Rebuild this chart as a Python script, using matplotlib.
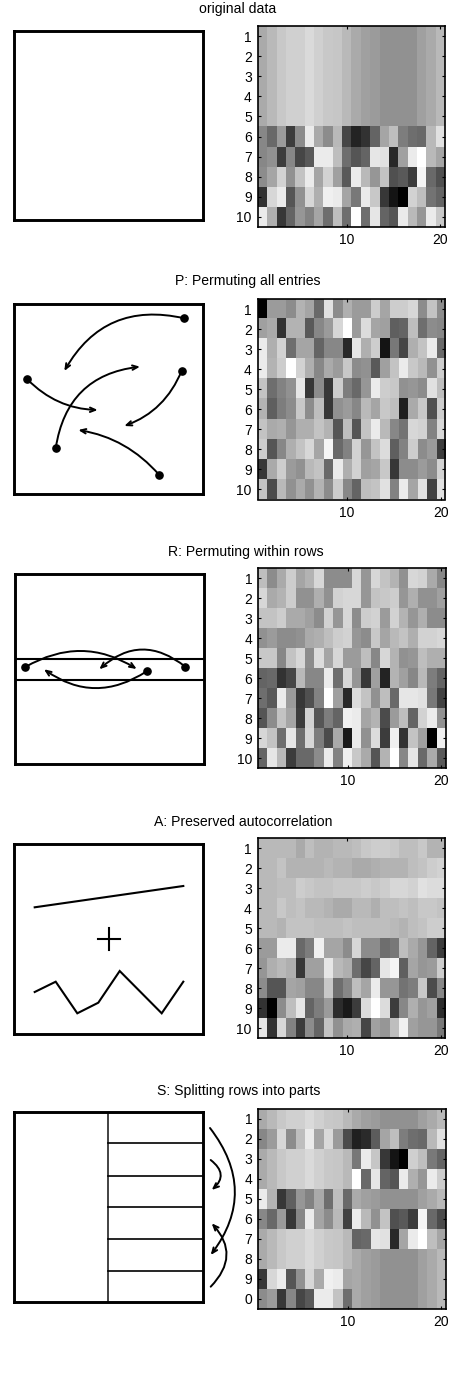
import matplotlib
matplotlib.use("Agg")
import matplotlib.pyplot as plt
from matplotlib.patches import FancyArrowPatch

plt.rcParams['font.family'] = ['Liberation Sans', 'DejaVu Sans']

FIG_W, FIG_H = 477, 1400

# ---------- data: grey levels (0 black .. 255 white) ----------
smooth_row = [170,185,200,208,208,218,208,200,198,185,170,160,155,145,145,145,145,160,170,185]

original_noisy = [
    [135,105,155,60,140,235,170,140,185,70,35,50,100,165,190,125,110,105,185,225],
    [135,145,60,135,70,90,235,235,190,110,85,100,230,225,40,160,235,255,185,165],
    [140,165,210,145,195,235,165,210,160,90,235,185,150,195,80,90,60,245,105,80],
    [50,215,235,85,145,215,175,240,235,165,120,235,200,55,20,0,210,190,115,100],
    [235,175,55,100,150,130,165,110,190,110,255,110,230,100,85,235,185,150,235,200],
]
original = [smooth_row] * 5 + original_noisy

permuted_all = [
    [0,155,155,140,180,165,105,225,140,175,155,155,205,165,205,205,215,140,195,140],
    [160,170,50,180,180,90,135,155,215,255,155,220,165,160,95,100,190,110,140,135],
    [235,175,210,110,165,165,100,135,135,40,230,175,205,20,120,70,175,195,235,105],
    [235,180,205,255,210,175,135,170,155,200,140,145,90,160,195,235,200,185,145,205],
    [195,110,130,145,230,55,140,55,205,125,105,150,235,205,200,145,150,140,225,190],
    [180,95,125,140,200,140,190,55,145,155,135,185,165,200,190,30,170,200,80,205],
    [195,170,175,150,175,175,195,180,85,190,85,195,235,185,135,115,215,210,130,215],
    [205,85,135,175,195,215,165,245,105,130,210,150,195,220,95,130,205,140,155,60],
    [55,170,205,155,145,185,195,105,235,175,210,160,165,200,55,140,140,155,140,210],
    [195,75,185,145,170,145,180,140,205,135,100,190,195,225,130,235,165,225,65,225],
]

permuted_rows = [
    [190,140,170,205,165,180,215,140,140,140,215,150,215,195,180,145,215,210,170,135],
    [215,170,180,205,145,145,175,145,210,215,215,150,195,200,205,150,175,145,145,160],
    [195,195,205,170,170,160,140,210,150,215,140,205,210,155,210,180,150,175,140,140],
    [145,155,140,140,145,170,175,190,205,210,150,140,200,165,185,195,175,210,210,215],
    [200,200,135,195,215,140,220,165,215,155,155,190,135,215,180,145,150,190,175,175],
    [100,105,50,70,185,135,135,235,110,215,150,55,160,35,180,160,135,185,125,100],
    [110,90,235,155,55,80,130,255,160,40,220,195,145,190,105,230,230,225,120,65],
    [85,140,195,165,60,210,85,125,100,240,235,165,180,75,155,190,100,210,235,145],
    [215,195,110,230,110,215,125,75,170,25,235,145,220,60,240,50,195,160,0,240],
    [100,230,185,60,105,105,140,235,130,240,200,170,85,180,255,135,230,105,170,90],
]

autocorr = [
    [185,185,185,185,170,190,180,180,185,185,190,200,205,205,200,190,190,200,180,180],
    [185,185,195,180,180,180,180,185,180,180,170,170,175,180,180,180,190,195,205,210],
    [185,185,190,190,205,200,195,195,200,200,200,205,200,205,215,215,210,225,220,220],
    [185,185,200,190,195,185,185,180,170,170,185,185,175,190,190,195,190,200,200,195],
    [185,185,180,195,195,195,190,190,190,195,190,190,190,190,185,180,190,195,205,205],
    [155,155,235,235,105,125,240,165,165,140,215,140,140,110,120,190,170,150,100,60],
    [150,175,185,175,55,160,160,230,185,175,110,70,100,230,245,95,165,150,155,205],
    [140,85,85,165,160,135,135,200,110,135,190,165,235,150,150,115,125,200,75,135],
    [50,0,140,190,230,100,125,155,45,25,60,220,255,220,60,135,175,150,160,45],
    [230,50,215,130,60,140,100,195,145,170,175,70,160,150,190,240,160,150,150,120],
]

left_smooth = smooth_row[:10]
right_smooth = smooth_row[10:]
splitting = [
    smooth_row,
    [135,155,215,140,190,235,165,218,155,75,32,42,92,165,190,125,110,105,185,225],
    left_smooth + [120,235,198,55,20,0,207,190,122,100],
    left_smooth + [255,105,230,100,85,235,175,150,235,205],
    [235,180,55,95,150,130,170,110,190,105] + right_smooth,
    [135,105,155,55,135,235,165,140,185,65,235,185,145,195,80,90,60,245,105,75],
    left_smooth + [100,105,230,225,40,165,235,255,190,165],
    left_smooth + right_smooth,
    [55,215,235,85,145,215,170,240,235,165] + right_smooth,
    [140,155,55,135,70,90,235,235,195,110] + right_smooth,
]

row_labels = ['1','2','3','4','5','6','7','8','9','10']
row_labels_split = ['1','2','3','4','5','6','7','8','9','0']
col_ticks = [10, 20]

titles = ['original data', 'P: Permuting all entries', 'R: Permuting within rows',
          'A: Preserved autocorrelation', 'S: Splitting rows into parts']
title_x = [238, 247.5, 245.5, 243, 239]
title_y = [9.5, 281.5, 552.5, 822.5, 1090.5]

heat_sets = [original, permuted_all, permuted_rows, autocorr, splitting]
heat_labels = [row_labels, row_labels, row_labels, row_labels, row_labels_split]
heat_boxes = [(258,445,26,227), (258,445.5,299,499.5), (258.5,446,568,768),
              (258,445.5,838,1038), (258.5,446,1109,1309)]
panel_boxes = [(14.3,203.5,31,220), (14.3,203.5,304.3,494), (15,204,574.3,764),
               (14.3,203.5,844.3,1034), (14.3,203.5,1112,1302)]

# schematic geometry, in reference pixels
perm_dots_x = [184.3, 27.3, 55.7, 181.7, 159.3]
perm_dots_y = [318.3, 379.3, 448.3, 370.7, 475]
perm_ends_x = [64.3, 97.7, 140, 124.3, 78.3]
perm_ends_y = [371, 410, 366.7, 426, 430]
perm_rads = [0.37, 0.20, -0.38, -0.22, 0.18]

row_lines_y = [658.7, 680]
row_dots_x = [25.3, 146.7, 185.3]
row_dots_y = [667, 671.3, 666.7]
row_ends_x = [136.7, 44, 99.3]
row_ends_y = [669, 669.3, 669.3]
row_rads = [-0.30, -0.34, 0.42]

trend_x = [34.7, 183.3]
trend_y = [907.3, 886]
cross_x = [98.3, 120]
cross_y = [939, 939]
cross_v_x = [109, 109]
cross_v_y = [928.3, 950]
zig_x = [34.7, 55.7, 77.3, 98.3, 119.7, 161.7, 183.3]
zig_y = [992, 981.7, 1013.3, 1002.7, 971, 1013.3, 981.7]

split_x = 108.3
split_lines_y = [1143.3, 1175.7, 1207, 1238.7, 1271]
split_start_x = [210, 210.7, 210.7]
split_start_y = [1128, 1160, 1286.7]
split_end_x = [210.7, 211.7, 211.7]
split_end_y = [1255, 1190, 1223.3]
split_rads = [-0.38, -0.60, 0.47]

fig = plt.figure(figsize=(FIG_W/100, FIG_H/100), dpi=100, facecolor='white')

def axes_at(x0, x1, y0, y1):
    return fig.add_axes([x0/FIG_W, 1 - y1/FIG_H, (x1-x0)/FIG_W, (y1-y0)/FIG_H])

def arrows(ax, xs, ys, xe, ye, rads):
    for a, b, c, d, r in zip(xs, ys, xe, ye, rads):
        ax.add_patch(FancyArrowPatch((a, b), (c, d), connectionstyle=f"arc3,rad={r}",
                     arrowstyle="->,head_length=3.8,head_width=1.6", lw=1.4, color='black',
                     shrinkA=0, shrinkB=0, clip_on=False, zorder=3))

panels = []
for box in panel_boxes:
    x0, x1, y0, y1 = box
    ax = axes_at(x0, x1, y0, y1)
    ax.set_xlim(x0, x1)
    ax.set_ylim(y1, y0)
    ax.set_xticks([]); ax.set_yticks([])
    for s in ax.spines.values():
        s.set_linewidth(2.1)
        s.set_color('black')
    panels.append(ax)

# P
ax = panels[1]
ax.plot(perm_dots_x, perm_dots_y, 'o', color='black', ms=5.2, ls='none', zorder=4)
arrows(ax, perm_dots_x, perm_dots_y, perm_ends_x, perm_ends_y, perm_rads)

# R
ax = panels[2]
for y in row_lines_y:
    ax.axhline(y, color='black', lw=1.5)
ax.plot(row_dots_x, row_dots_y, 'o', color='black', ms=5.2, ls='none', zorder=4)
arrows(ax, row_dots_x, row_dots_y, row_ends_x, row_ends_y, row_rads)

# A
ax = panels[3]
ax.plot(trend_x, trend_y, color='black', lw=1.5)
ax.plot(cross_x, cross_y, color='black', lw=1.5)
ax.plot(cross_v_x, cross_v_y, color='black', lw=1.5)
ax.plot(zig_x, zig_y, color='black', lw=1.5, solid_joinstyle='miter')

# S
ax = panels[4]
ax.axvline(split_x, color='#222222', lw=1.2)
for y in split_lines_y:
    ax.plot([split_x, panel_boxes[4][1]], [y, y], color='black', lw=1.2)
arrows(ax, split_start_x, split_start_y, split_end_x, split_end_y, split_rads)

# heat maps
for data, labels, box in zip(heat_sets, heat_labels, heat_boxes):
    ax = axes_at(*box)
    ax.imshow(data, cmap='gray', vmin=0, vmax=255, aspect='auto', interpolation='nearest',
              extent=(0.5, 20.5, 10.5, 0.5))
    ax.set_xticks(col_ticks)
    ax.set_yticks(range(1, 11))
    ax.set_yticklabels(labels)
    ax.tick_params(direction='in', length=2, width=0.8, top=True, right=True,
                   labelsize=10, pad=4.5, color='black')
    for s in ax.spines.values():
        s.set_linewidth(1.2)

for t, x, y in zip(titles, title_x, title_y):
    fig.text(x/FIG_W, 1 - y/FIG_H, t, ha='center', va='center', fontsize=10.1, color='black')

fig.savefig('out.png', dpi=100)
